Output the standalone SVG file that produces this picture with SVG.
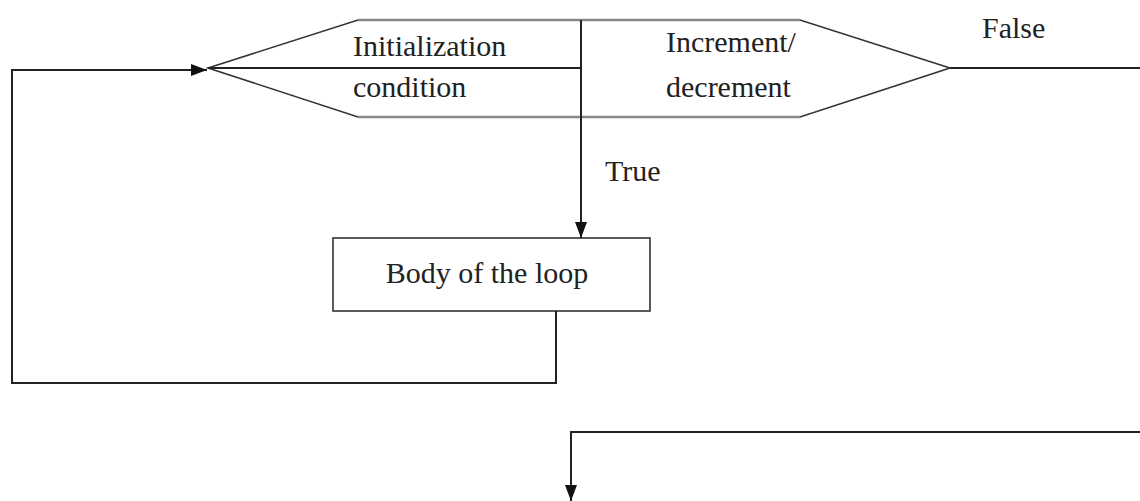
<svg xmlns="http://www.w3.org/2000/svg" width="1140" height="501" viewBox="0 0 1140 501">
  <style>
    .edge { fill: none; stroke: #222; stroke-width: 2; }
    .shape { fill: #fff; stroke: #333; stroke-width: 1.6; }
    .rim { fill: none; stroke: #888; stroke-width: 2.5; }
    .lbl { font-family: 'Liberation Serif', 'Times New Roman', Times, serif; font-size: 30px; fill: #222; }
  </style>
  <defs>
    <marker id="arrow" viewBox="0 0 16 12" refX="16" refY="6" markerWidth="16" markerHeight="12" markerUnits="userSpaceOnUse" orient="auto">
      <path d="M0,0 L16,6 L0,12 Z" fill="#111"/>
    </marker>
  </defs>
  <rect width="1140" height="501" fill="#fff"/>

  <!-- for-loop header: init / condition / update hexagon -->
  <g id="loop-header">
    <polygon class="shape" points="208,68 358,20 800,20 950,68 800,117 358,117"/>
    <line class="rim" x1="358" y1="20" x2="800" y2="20"/>
    <line class="rim" x1="358" y1="117" x2="800" y2="117"/>
    <line class="edge" x1="208" y1="68" x2="581" y2="68"/>
    <text class="lbl" x="353" y="56">Initialization</text>
    <text class="lbl" x="353" y="97">condition</text>
    <text class="lbl" x="666" y="52">Increment/</text>
    <text class="lbl" x="666" y="97">decrement</text>
  </g>

  <!-- loop body -->
  <g id="loop-body">
    <rect class="shape" x="333" y="238" width="317" height="73"/>
    <text class="lbl" x="487" y="283" text-anchor="middle">Body of the loop</text>
  </g>

  <!-- connectors -->
  <g id="connectors">
    <path class="edge" d="M581,20 V238" marker-end="url(#arrow)"/>
    <path class="edge" d="M556,311 V383 H12 V70 H207" marker-end="url(#arrow)"/>
    <path class="edge" d="M950,68 H1140"/>
    <path class="edge" d="M1140,432 H571 V501" marker-end="url(#arrow)"/>
    <text class="lbl" x="605" y="181">True</text>
    <text class="lbl" x="982" y="38">False</text>
  </g>
</svg>
